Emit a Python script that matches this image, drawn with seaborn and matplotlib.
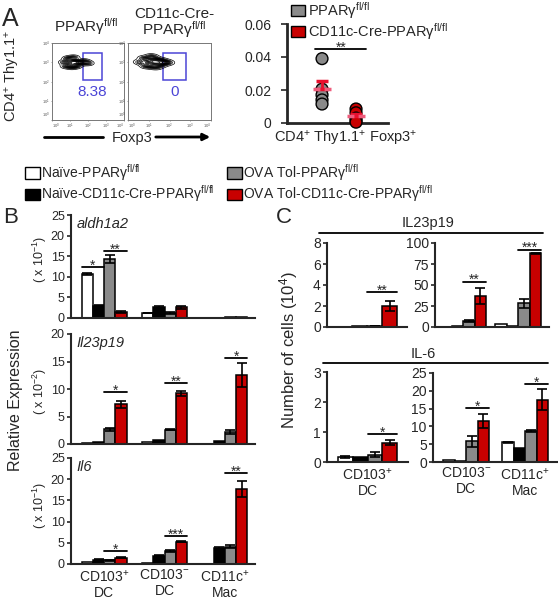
import numpy as np
import pandas as pd
import matplotlib
matplotlib.use('Agg')
import matplotlib.pyplot as plt
import seaborn as sns
from matplotlib.patches import Patch, Rectangle

W, H = 558, 600

# groups / colours
groups = ['naive_wt', 'naive_ko', 'tol_wt', 'tol_ko']
group_labels = ['Naïve-PPARγ$^{\\mathrm{fl/fl}}$',
                'Naïve-CD11c-Cre-PPARγ$^{\\mathrm{fl/fl}}$',
                'OVA Tol-PPARγ$^{\\mathrm{fl/fl}}$',
                'OVA Tol-CD11c-Cre-PPARγ$^{\\mathrm{fl/fl}}$']
group_colors = ['#ffffff', '#000000', '#8a8a8a', '#c80000']
cells = ['CD103+ DC', 'CD103- DC', 'CD11c+ Mac']
cell_labels = ['CD103$^{+}$\nDC', 'CD103$^{-}$\nDC', 'CD11c$^{+}$\nMac']

# panel A: flow events (log10 units) and gate frequencies
flow_wt_x = [0.7, 0.8, 0.9, 1.0, 1.0, 1.1, 1.1, 1.2, 1.2, 1.3, 1.35, 1.45, 1.6, 1.8, 2.0]
flow_wt_y = [3.0, 2.8, 3.2, 2.9, 3.1, 2.75, 3.0, 3.25, 2.9, 3.05, 2.8, 3.0, 2.95, 3.05, 2.95]
flow_ko_x = [0.6, 0.8, 0.9, 1.0, 1.05, 1.15, 1.2, 1.3, 1.3, 1.4, 1.5, 1.6, 1.7, 1.9]
flow_ko_y = [3.0, 3.2, 2.8, 3.1, 2.9, 3.3, 3.0, 2.75, 3.15, 3.0, 2.85, 3.1, 2.95, 3.0]
gate_freq = ['8.38', '0']

# panel A: Foxp3+ frequencies
dot_wt = [0.039, 0.0205, 0.017, 0.014, 0.0115]
dot_ko = [0.0085, 0.0062, 0.003, 0.0015, 0.0005]

# panel B: relative expression, rows = groups, cols = cells
aldh1a2_mean = [[10.7, 1.2, 0.1], [3.0, 2.6, 0.1], [14.3, 1.2, 0.15], [1.4, 2.6, 0.15]]
aldh1a2_err = [[0.3, 0.1, 0], [0.1, 0.2, 0], [1.0, 0.2, 0], [0.2, 0.3, 0]]
il23_mean = [[0.2, 0.4, 0.05], [0.3, 0.8, 0.6], [2.7, 2.6, 2.2], [7.2, 9.2, 12.5]]
il23_err = [[0, 0, 0], [0, 0, 0], [0.3, 0.1, 0.3], [0.7, 0.5, 2.2]]
il6_mean = [[0.4, 0.3, 0.1], [1.0, 2.0, 3.7], [0.9, 3.0, 4.1], [1.5, 5.3, 17.7]]
il6_err = [[0, 0, 0], [0.1, 0.1, 0.2], [0.1, 0.2, 0.3], [0.2, 0.2, 1.8]]

# panel C: number of cells (x10^4)
c_il23_mean = [[0.02, 0.5, 4.0], [0.05, 1.0, 1.5], [0.1, 7.0, 28.0], [2.0, 37.0, 88.0]]
c_il23_err = [[0, 0, 0], [0, 0, 0], [0.02, 1.5, 5.0], [0.5, 10.0, 0.5]]
c_il6_mean = [[0.17, 0.5, 5.5], [0.18, 0.4, 4.0], [0.25, 5.8, 8.6], [0.65, 11.5, 17.5]]
c_il6_err = [[0.03, 0, 0.2], [0, 0, 0], [0.07, 1.5, 0.3], [0.08, 2.0, 3.0]]

# significance: (cell, group a, group b, y, stars)
aldh1a2_sig = [(0, 0, 1, 12.4, '*'), (0, 2, 3, 16.2, '**')]
il23_sig = [(0, 2, 3, 9.4, '*'), (1, 2, 3, 11.1, '**'), (2, 2, 3, 15.6, '*')]
il6_sig = [(0, 2, 3, 3.0, '*'), (1, 2, 3, 6.6, '***'), (2, 2, 3, 21.5, '**')]
c_il23_sig = [(0, 2, 3, 3.3, '**'), (1, 2, 3, 54, '**'), (2, 2, 3, 92, '***')]
c_il6_sig = [(0, 2, 3, 0.93, '*'), (1, 2, 3, 15.2, '*'), (2, 2, 3, 21.9, '*')]

sns.set_style('ticks')
plt.rcParams['font.family'] = ['Liberation Sans', 'DejaVu Sans']
plt.rcParams['mathtext.fontset'] = 'custom'
plt.rcParams['mathtext.rm'] = 'Liberation Sans'
plt.rcParams['mathtext.it'] = 'Liberation Sans:italic'
plt.rcParams['mathtext.bf'] = 'Liberation Sans:bold'

fig = plt.figure(figsize=(W / 100, H / 100), dpi=100)


def px_axes(x0, y0, x1, y1):
    return fig.add_axes([x0 / W, 1 - y1 / H, (x1 - x0) / W, (y1 - y0) / H])


def ftext(x, y, s, **kw):
    fig.text(x / W, 1 - y / H, s, **kw)


def fline(x0, x1, y, **kw):
    fig.add_artist(plt.Line2D([x0 / W, x1 / W], [1 - y / H, 1 - y / H], **kw))


def style_axis(ax, yticks, ylim, xlim):
    sns.despine(ax=ax)
    ax.set_ylim(*ylim)
    ax.set_xlim(*xlim)
    ax.set_yticks(yticks)
    ax.set_xlabel('')
    ax.set_ylabel('')
    for s in ['left', 'bottom']:
        ax.spines[s].set_linewidth(1.5)
    ax.tick_params(axis='y', labelsize=9, width=1.2, length=3, pad=1.5)
    ax.tick_params(axis='x', length=0, labelsize=9.5, pad=3)


def add_stars(ax, x0, x1, y, stars):
    ax.plot([x0, x1], [y, y], color='black', lw=1.3, clip_on=False)
    ax.annotate(stars, xy=((x0 + x1) / 2, y), xytext=(0, -4), textcoords='offset points',
                ha='center', va='bottom', fontsize=10, annotation_clip=False)


def draw_bars(ax, means, errs, cell_idx, sigs, width=0.75):
    df = pd.DataFrame([{'cell': cells[c], 'group': groups[g], 'value': means[g][c]}
                       for g in range(4) for c in cell_idx])
    sns.barplot(data=df, x='cell', y='value', hue='group', hue_order=groups,
                order=[cells[c] for c in cell_idx], palette=group_colors,
                saturation=1, edgecolor='black', linewidth=1.1, width=width,
                errorbar=None, legend=False, ax=ax)
    bars = {}
    bar_conts = list(ax.containers)
    for g, cont in enumerate(bar_conts):
        for bar, c in zip(cont, cell_idx):
            bars[(g, c)] = bar
            e = errs[g][c]
            if e > 0:
                ax.errorbar(bar.get_x() + bar.get_width() / 2, bar.get_height(), yerr=e,
                            color='black', capsize=3.5, lw=1.2, capthick=1.2)
    for c, a, b, y, stars in sigs:
        if c not in cell_idx:
            continue
        x0 = bars[(a, c)].get_x()
        x1 = bars[(b, c)].get_x() + bars[(b, c)].get_width()
        add_stars(ax, x0, x1, y, stars)


# ---------------- panel A ----------------
ftext(2, 26, 'A', fontsize=18)
gate_color = '#4b45d6'
flow_boxes = [(52, 43, 124, 120), (128, 43, 211, 120)]
flow_data = [(flow_wt_x, flow_wt_y), (flow_ko_x, flow_ko_y)]
for i, ((x0, y0, x1, y1), (fx, fy)) in enumerate(zip(flow_boxes, flow_data)):
    ax = px_axes(x0, y0, x1, y1)
    sns.kdeplot(x=fx, y=fy, levels=16, thresh=0.03, color='black', linewidths=0.5,
                bw_adjust=0.8, ax=ax)
    ax.set_xlim(0, 4)
    ax.set_ylim(0, 4)
    ax.add_patch(Rectangle((1.7, 2.1), 1.1, 1.4, fill=False, edgecolor=gate_color, lw=1.1))
    ax.text(2.25, 1.45, gate_freq[i], color=gate_color, fontsize=11, ha='center', va='center')
    ticks = [0, 1, 2, 3, 4]
    tl = ['$10^{%d}$' % t for t in ticks]
    ax.set_xticks(ticks)
    ax.set_xticklabels(tl)
    ax.set_yticks(ticks)
    ax.set_yticklabels(tl)
    ax.tick_params(labelsize=3, length=1, width=0.4, pad=0.5, colors='#555555')
    xl = ax.get_xticklabels()
    xl[0].set_horizontalalignment('left')
    xl[-1].set_horizontalalignment('right')
    ax.get_yticklabels()[0].set_verticalalignment('bottom')
    ax.set_xlabel('')
    ax.set_ylabel('')
    for s in ax.spines.values():
        s.set_color('#777777')
        s.set_linewidth(0.7)

ftext(86, 27, 'PPARγ$^{\\mathrm{fl/fl}}$', fontsize=11, ha='center', va='center')
ftext(174, 14, 'CD11c-Cre-', fontsize=11, ha='center', va='center')
ftext(174, 30, 'PPARγ$^{\\mathrm{fl/fl}}$', fontsize=11, ha='center', va='center')
ftext(12, 76, 'CD4$^{+}$ Thy1.1$^{+}$', fontsize=10.5, ha='center', va='center', rotation=90)
ftext(132, 138, 'Foxp3', fontsize=10.5, ha='center', va='center')
fline(44, 103, 137, color='black', lw=2)
fig.add_artist(matplotlib.patches.FancyArrowPatch((153 / W, 1 - 137 / H), (213 / W, 1 - 137 / H),
                                                  transform=fig.transFigure, arrowstyle='-|>',
                                                  mutation_scale=10, color='black', lw=2))

# dot plot
ax = px_axes(287, 24, 388, 123)
dot_df = pd.DataFrame({'group': ['wt'] * len(dot_wt) + ['ko'] * len(dot_ko),
                       'value': dot_wt + dot_ko})
sns.stripplot(data=dot_df, x='group', y='value', hue='group', order=['wt', 'ko'],
              palette={'wt': '#8a8a8a', 'ko': '#c80000'}, jitter=False, size=8.5,
              edgecolor='black', linewidth=1, legend=False, ax=ax, clip_on=False, zorder=3)
for x, vals in enumerate([dot_wt, dot_ko]):
    m = np.mean(vals)
    sem = np.std(vals, ddof=1) / np.sqrt(len(vals))
    ax.errorbar(x, m, yerr=[[0], [sem]], color='#e8102e', capsize=4, lw=2, capthick=2.5, zorder=4)
    ax.hlines(m, x - 0.27, x + 0.27, color='#ee5c7c', linestyles=(0, (2, 1.2)), lw=2.5, zorder=4)
add_stars(ax, -0.2, 1.3, 0.045, '**')
style_axis(ax, [0, 0.02, 0.04, 0.06], (0, 0.06), (-1.03, 1.94))
ax.set_yticklabels(['0', '0.02', '0.04', '0.06'])
ax.set_xticks([])
ax.spines['left'].set_linewidth(2)
ax.spines['bottom'].set_linewidth(2)
ax.tick_params(axis='y', labelsize=10, length=4, pad=7)
ftext(346, 138, 'CD4$^{+}$ Thy1.1$^{+}$ Foxp3$^{+}$', fontsize=10.5, ha='center', va='center')
fig.legend([Patch(facecolor='#8a8a8a', edgecolor='black'), Patch(facecolor='#c80000', edgecolor='black')],
           ['PPARγ$^{\\mathrm{fl/fl}}$', 'CD11c-Cre-PPARγ$^{\\mathrm{fl/fl}}$'],
           loc='upper left', bbox_to_anchor=(291 / W, 1.0), frameon=False, fontsize=10.5,
           handlelength=0.95, handleheight=0.85, handletextpad=0.2, labelspacing=0.0,
           borderaxespad=0, borderpad=0)

# main legend
handles = [Patch(facecolor=c, edgecolor='black') for c in group_colors]
for cols, xpos in [((0, 1), 25), ((2, 3), 227)]:
    fig.legend([handles[i] for i in cols], [group_labels[i] for i in cols],
               loc='upper left', bbox_to_anchor=(xpos / W, 1 - 162 / H), frameon=False,
               fontsize=10, handlelength=1.05, handleheight=0.9, handletextpad=0.1,
               labelspacing=0.05, borderaxespad=0, borderpad=0)

# ---------------- panel B ----------------
ftext(3, 223, 'B', fontsize=16)
b_xlim = (-0.55, 2.5)
b_panels = [((71, 215, 255, 318), aldh1a2_mean, aldh1a2_err, aldh1a2_sig, 'aldh1a2',
             '( x 10$^{-1}$)', [0, 5, 10, 15, 20, 25], 25, 259),
            ((71, 334, 255, 444), il23_mean, il23_err, il23_sig, 'Il23p19',
             '( x 10$^{-2}$)', [0, 5, 10, 15, 20], 20, 391),
            ((71, 458, 255, 564), il6_mean, il6_err, il6_sig, 'Il6',
             '( x 10$^{-1}$)', [0, 5, 10, 15, 20, 25], 25, 505)]
for i, (box, mean, err, sig, title, scale, yt, ymax, ylab_y) in enumerate(b_panels):
    ax = px_axes(*box)
    draw_bars(ax, mean, err, [0, 1, 2], sig)
    style_axis(ax, yt, (0, ymax), b_xlim)
    ax.text(0.03, 0.98, title, transform=ax.transAxes, fontsize=10.5, style='italic',
            ha='left', va='top')
    ftext(40, ylab_y, scale, fontsize=9, rotation=90, ha='center', va='center')
    if i < 2:
        ax.set_xticklabels([])
    else:
        ax.set_xticklabels(cell_labels, fontsize=10, linespacing=1.15)
ftext(16, 400, 'Relative Expression', fontsize=11.5, rotation=90, ha='center', va='center')

# ---------------- panel C ----------------
ftext(276, 223, 'C', fontsize=16)
ftext(428, 223, 'IL23p19', fontsize=10.5, ha='center', va='center')
fline(319, 543, 233, color='black', lw=1.3)
ftext(423, 354, 'IL-6', fontsize=10.5, ha='center', va='center')
fline(323, 548, 363, color='black', lw=1.3)
ftext(289, 350, 'Number of cells (10$^{4}$)', fontsize=12, rotation=90, ha='center', va='center')

c_panels = [((327, 243, 407, 327), c_il23_mean, c_il23_err, c_il23_sig, [0], [0, 2, 4, 6, 8], 8,
             (-0.5, 0.5), 0.75, False),
            ((435, 243, 549, 327), c_il23_mean, c_il23_err, c_il23_sig, [1, 2], [0, 25, 50, 75, 100], 100,
             (-0.51, 1.56), 0.84, False),
            ((327, 372, 408, 462), c_il6_mean, c_il6_err, c_il6_sig, [0], [0, 1, 2, 3], 3,
             (-0.5, 0.5), 0.73, True),
            ((433, 373, 557, 462), c_il6_mean, c_il6_err, c_il6_sig, [1, 2], [0, 5, 10, 15, 20, 25], 25,
             (-0.56, 1.54), 0.78, True)]
for box, mean, err, sig, idx, yt, ymax, xl, wd, labels in c_panels:
    ax = px_axes(*box)
    draw_bars(ax, mean, err, idx, sig, width=wd)
    style_axis(ax, yt, (0, ymax), xl)
    ax.tick_params(axis='y', labelsize=10)
    if labels:
        ax.set_xticklabels([cell_labels[c] for c in idx], fontsize=10, linespacing=1.15)
    else:
        ax.set_xticklabels([])

fig.savefig('out.png', dpi=100)
